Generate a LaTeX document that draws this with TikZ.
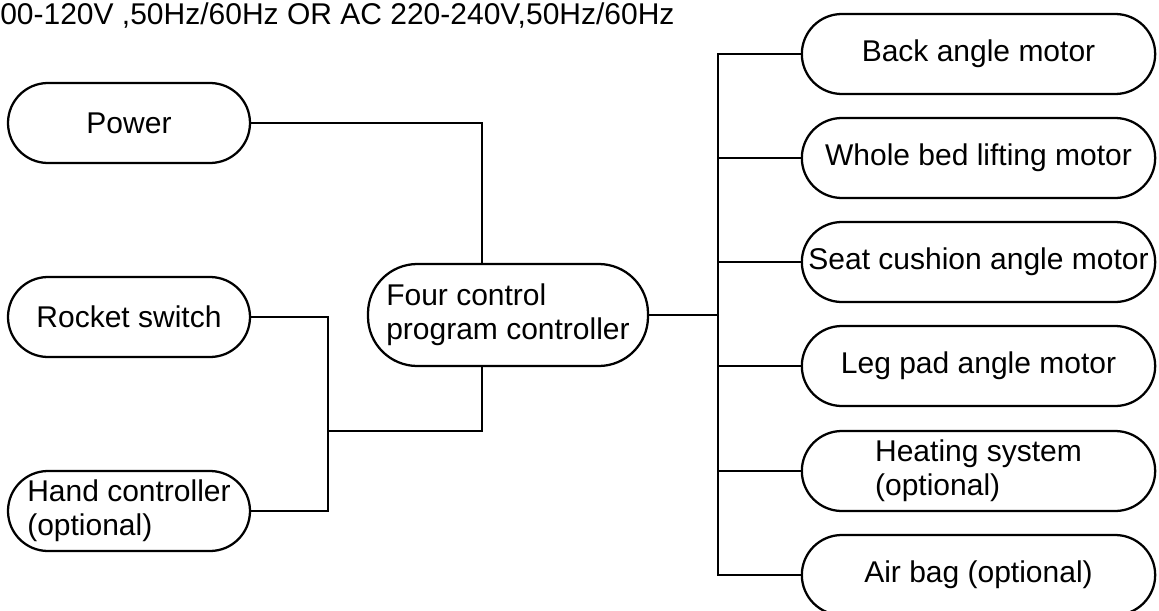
\documentclass[tikz,border=0pt]{standalone}
\usepackage{fontspec}
\setmainfont{Liberation Sans}
\usetikzlibrary{positioning}

\begin{document}
\begin{tikzpicture}[x=0.75pt,y=0.75pt,yscale=-1,xscale=1,
  every node/.style={font=\fontsize{22.5pt}{25.5pt}\selectfont},
  lbox/.style={draw, line width=1.7pt, rounded corners=30pt, minimum width=181.5pt, minimum height=60pt, inner sep=0pt, align=left},
  rbox/.style={lbox, minimum width=265pt},
  cbox/.style={lbox, minimum width=210pt, minimum height=76.5pt, rounded corners=37pt},
  wire/.style={line width=1.7pt}]
\useasboundingbox (0,0) rectangle (1159,610);

% Text Node
\node (supply) at (0,25) [anchor=base west, inner sep=0pt] {00-120V ,50Hz/60Hz OR AC 220-240V,50Hz/60Hz};

%Shape: Rounded Rectangle [id:pow] 
\node (pow) at (129,123) [lbox] {Power};
%Shape: Rounded Rectangle [id:rock] 
\node (rock) at (129,317) [lbox] {Rocket switch};
%Shape: Rounded Rectangle [id:hand] 
\node (hand) at (129,511) [lbox] {Hand controller\\(optional)};
%Shape: Rounded Rectangle [id:ctrl] 
\node (ctrl) at (508,315) [cbox] {Four control\\program controller};

%Shape: Rounded Rectangle [id:m1] 
\node (m1) at (978.5,54) [rbox] {Back angle motor};
%Shape: Rounded Rectangle [id:m2] 
\node (m2) at (978.5,158) [rbox] {Whole bed lifting motor};
%Shape: Rounded Rectangle [id:m3] 
\node (m3) at (978.5,262) [rbox] {Seat cushion angle motor};
%Shape: Rounded Rectangle [id:m4] 
\node (m4) at (978.5,366) [rbox] {Leg pad angle motor};
%Shape: Rounded Rectangle [id:m5] 
\node (m5) at (978.5,471) [rbox] {Heating system\\(optional)};
%Shape: Rounded Rectangle [id:m6] 
\node (m6) at (978.5,575) [rbox] {Air bag (optional)};

%Straight Lines [id:left] 
\coordinate (lj) at (328,431);
\draw [wire] (pow.east) -| ([xshift=-19.5pt]ctrl.north);
\draw [wire] (rock.east) -| (lj);
\draw [wire] (hand.east) -| (lj);
\draw [wire] (lj) -| ([xshift=-19.5pt]ctrl.south);

%Straight Lines [id:right] 
\coordinate (rj) at (718,315);
\draw [wire] (ctrl.east) -- (rj);
\foreach \m in {m1,m2,m3,m4,m5,m6}
  \draw [wire] (\m.west) -| (rj);

\end{tikzpicture}
\end{document}
